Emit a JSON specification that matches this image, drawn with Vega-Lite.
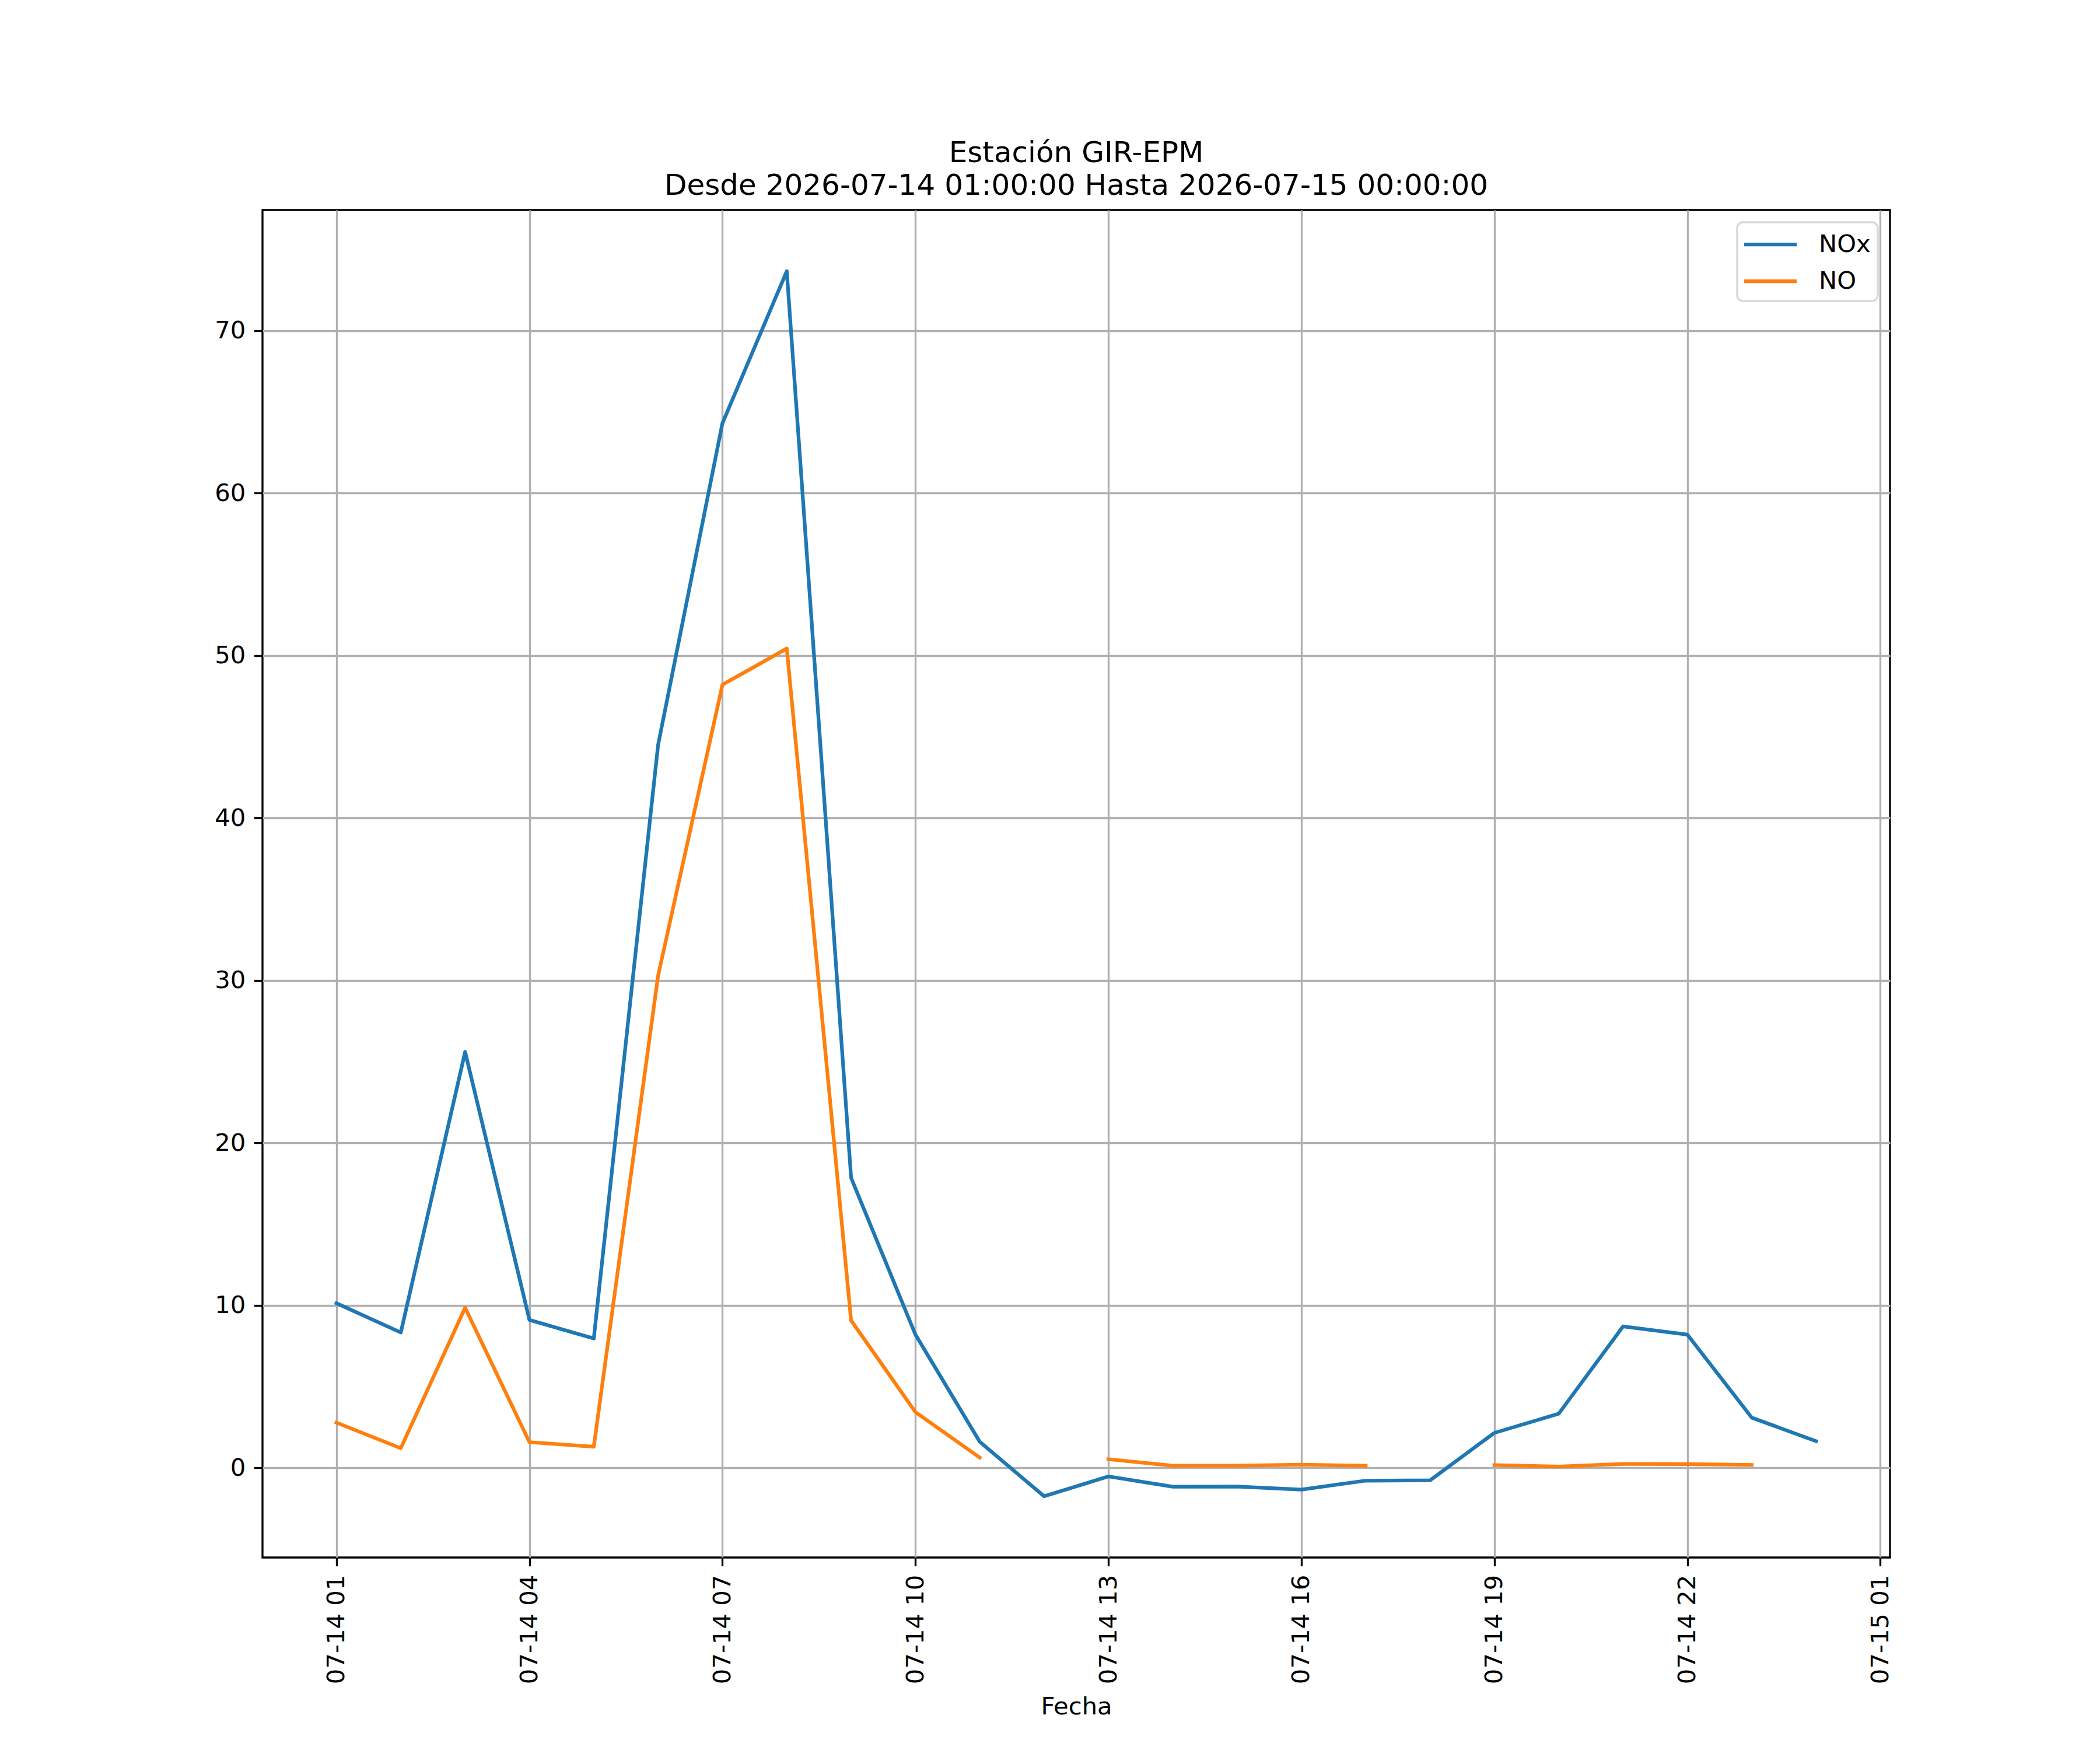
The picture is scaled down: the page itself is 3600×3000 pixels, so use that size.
{
  "$schema": "https://vega.github.io/schema/vega-lite/v6.json",
  "description": "Estacion GIR-EPM, NOx y NO horarios del 2026-07-14",
  "width": 2790,
  "height": 2310,
  "autosize": {"type": "none"},
  "padding": {"left": 450, "top": 360, "right": 360, "bottom": 330},
  "background": "white",
  "title": {
    "text": ["Estación GIR-EPM", "Desde 2026-07-14 01:00:00 Hasta 2026-07-15 00:00:00"],
    "fontSize": 50,
    "fontWeight": "normal",
    "font": "DejaVu Sans",
    "color": "black",
    "anchor": "middle",
    "frame": "group",
    "baseline": "bottom",
    "lineHeight": 56,
    "offset": -34
  },
  "data": {
    "values": [
      {"fecha": "2026-07-14T01:00:00Z", "serie": "NOx", "valor": 10.13},
      {"fecha": "2026-07-14T02:00:00Z", "serie": "NOx", "valor": 8.33},
      {"fecha": "2026-07-14T03:00:00Z", "serie": "NOx", "valor": 25.6},
      {"fecha": "2026-07-14T04:00:00Z", "serie": "NOx", "valor": 9.1},
      {"fecha": "2026-07-14T05:00:00Z", "serie": "NOx", "valor": 7.96},
      {"fecha": "2026-07-14T06:00:00Z", "serie": "NOx", "valor": 44.5},
      {"fecha": "2026-07-14T07:00:00Z", "serie": "NOx", "valor": 64.3},
      {"fecha": "2026-07-14T08:00:00Z", "serie": "NOx", "valor": 73.65},
      {"fecha": "2026-07-14T09:00:00Z", "serie": "NOx", "valor": 17.85},
      {"fecha": "2026-07-14T10:00:00Z", "serie": "NOx", "valor": 8.2},
      {"fecha": "2026-07-14T11:00:00Z", "serie": "NOx", "valor": 1.6},
      {"fecha": "2026-07-14T12:00:00Z", "serie": "NOx", "valor": -1.75},
      {"fecha": "2026-07-14T13:00:00Z", "serie": "NOx", "valor": -0.53},
      {"fecha": "2026-07-14T14:00:00Z", "serie": "NOx", "valor": -1.16},
      {"fecha": "2026-07-14T15:00:00Z", "serie": "NOx", "valor": -1.15},
      {"fecha": "2026-07-14T16:00:00Z", "serie": "NOx", "valor": -1.34},
      {"fecha": "2026-07-14T17:00:00Z", "serie": "NOx", "valor": -0.79},
      {"fecha": "2026-07-14T18:00:00Z", "serie": "NOx", "valor": -0.77},
      {"fecha": "2026-07-14T19:00:00Z", "serie": "NOx", "valor": 2.15},
      {"fecha": "2026-07-14T20:00:00Z", "serie": "NOx", "valor": 3.33},
      {"fecha": "2026-07-14T21:00:00Z", "serie": "NOx", "valor": 8.7},
      {"fecha": "2026-07-14T22:00:00Z", "serie": "NOx", "valor": 8.2},
      {"fecha": "2026-07-14T23:00:00Z", "serie": "NOx", "valor": 3.09},
      {"fecha": "2026-07-15T00:00:00Z", "serie": "NOx", "valor": 1.64},
      {"fecha": "2026-07-14T01:00:00Z", "serie": "NO", "valor": 2.78},
      {"fecha": "2026-07-14T02:00:00Z", "serie": "NO", "valor": 1.21},
      {"fecha": "2026-07-14T03:00:00Z", "serie": "NO", "valor": 9.85},
      {"fecha": "2026-07-14T04:00:00Z", "serie": "NO", "valor": 1.58},
      {"fecha": "2026-07-14T05:00:00Z", "serie": "NO", "valor": 1.3},
      {"fecha": "2026-07-14T06:00:00Z", "serie": "NO", "valor": 30.3},
      {"fecha": "2026-07-14T07:00:00Z", "serie": "NO", "valor": 48.2},
      {"fecha": "2026-07-14T08:00:00Z", "serie": "NO", "valor": 50.43},
      {"fecha": "2026-07-14T09:00:00Z", "serie": "NO", "valor": 9.07},
      {"fecha": "2026-07-14T10:00:00Z", "serie": "NO", "valor": 3.43},
      {"fecha": "2026-07-14T11:00:00Z", "serie": "NO", "valor": 0.63},
      {"fecha": "2026-07-14T12:00:00Z", "serie": "NO", "valor": null},
      {"fecha": "2026-07-14T13:00:00Z", "serie": "NO", "valor": 0.53},
      {"fecha": "2026-07-14T14:00:00Z", "serie": "NO", "valor": 0.13},
      {"fecha": "2026-07-14T15:00:00Z", "serie": "NO", "valor": 0.13},
      {"fecha": "2026-07-14T16:00:00Z", "serie": "NO", "valor": 0.19},
      {"fecha": "2026-07-14T17:00:00Z", "serie": "NO", "valor": 0.13},
      {"fecha": "2026-07-14T18:00:00Z", "serie": "NO", "valor": null},
      {"fecha": "2026-07-14T19:00:00Z", "serie": "NO", "valor": 0.17},
      {"fecha": "2026-07-14T20:00:00Z", "serie": "NO", "valor": 0.08},
      {"fecha": "2026-07-14T21:00:00Z", "serie": "NO", "valor": 0.24},
      {"fecha": "2026-07-14T22:00:00Z", "serie": "NO", "valor": 0.23},
      {"fecha": "2026-07-14T23:00:00Z", "serie": "NO", "valor": 0.18},
      {"fecha": "2026-07-15T00:00:00Z", "serie": "NO", "valor": null}
    ]
  },
  "mark": {
    "type": "line",
    "strokeWidth": 6.25,
    "strokeCap": "square",
    "strokeJoin": "round",
    "invalid": "break-paths-filter-domains"
  },
  "encoding": {
    "x": {
      "field": "fecha",
      "type": "temporal",
      "scale": {
        "type": "utc",
        "domain": [
          {"year": 2026, "month": 7, "date": 13, "hours": 23, "minutes": 51, "utc": true},
          {"year": 2026, "month": 7, "date": 15, "hours": 1, "minutes": 9, "utc": true}
        ]
      },
      "axis": {
        "title": "Fecha",
        "format": "%m-%d %H",
        "labelAngle": -90,
        "titlePadding": 35,
        "values": [
          {"year": 2026, "month": 7, "date": 14, "hours": 1, "utc": true},
          {"year": 2026, "month": 7, "date": 14, "hours": 4, "utc": true},
          {"year": 2026, "month": 7, "date": 14, "hours": 7, "utc": true},
          {"year": 2026, "month": 7, "date": 14, "hours": 10, "utc": true},
          {"year": 2026, "month": 7, "date": 14, "hours": 13, "utc": true},
          {"year": 2026, "month": 7, "date": 14, "hours": 16, "utc": true},
          {"year": 2026, "month": 7, "date": 14, "hours": 19, "utc": true},
          {"year": 2026, "month": 7, "date": 14, "hours": 22, "utc": true},
          {"year": 2026, "month": 7, "date": 15, "hours": 1, "utc": true}
        ]
      }
    },
    "y": {
      "field": "valor",
      "type": "quantitative",
      "scale": {"domain": [-5.52, 77.42], "nice": false, "zero": false},
      "axis": {"title": null, "values": [0, 10, 20, 30, 40, 50, 60, 70]}
    },
    "color": {
      "field": "serie",
      "type": "nominal",
      "scale": {"domain": ["NOx", "NO"], "range": ["#1f77b4", "#ff7f0e"]},
      "legend": {
        "title": null,
        "orient": "top-right",
        "offset": 21,
        "symbolType": "M-2,0H2",
        "symbolSize": 2025,
        "symbolStrokeWidth": 6.25,
        "symbolOffset": 19,
        "labelOffset": 57,
        "labelFontSize": 41.7,
        "labelColor": "black",
        "labelLimit": 0,
        "rowPadding": 15,
        "padding": 12,
        "strokeColor": "#d9d9d9",
        "fillColor": "white",
        "cornerRadius": 10,
        "encode": {"legend": {"update": {"strokeWidth": {"value": 3.5}}}}
      }
    }
  },
  "config": {
    "font": "DejaVu Sans",
    "view": {"stroke": "black", "strokeWidth": 3.33},
    "axis": {
      "domain": false,
      "grid": true,
      "gridColor": "#b0b0b0",
      "gridWidth": 3.33,
      "gridOpacity": 1,
      "ticks": true,
      "tickColor": "black",
      "tickWidth": 3.33,
      "tickSize": 14.6,
      "labelPadding": 14.6,
      "labelFontSize": 41.7,
      "labelColor": "black",
      "labelLimit": 0,
      "labelFlush": false,
      "labelOverlap": false,
      "labelBound": false,
      "titleFontSize": 41.7,
      "titleFontWeight": "normal",
      "titleColor": "black"
    }
  }
}
